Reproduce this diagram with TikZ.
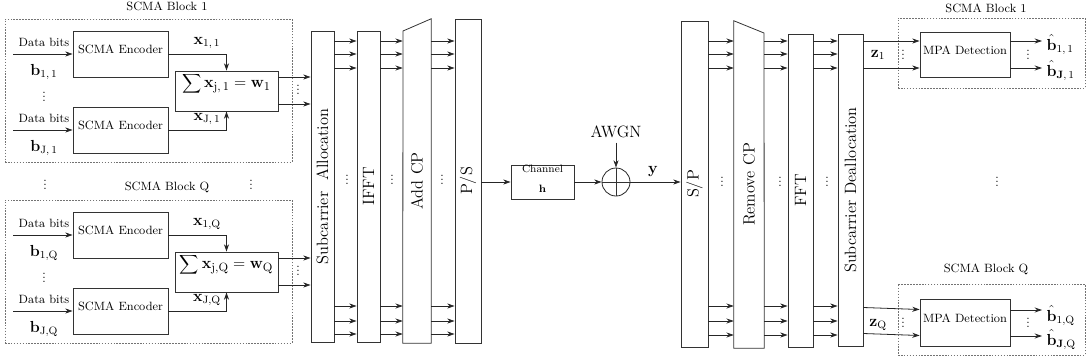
\documentclass[tikz,border=0pt]{standalone}
\usetikzlibrary{arrows.meta,fit,calc}
\newcommand{\myvd}{\vbox{\baselineskip3pt\lineskiplimit0pt\hbox{.}\hbox{.}\hbox{.}}}
\begin{document}
\begin{tikzpicture}[x=0.75pt,y=-0.75pt,
  every node/.style={font=\fontsize{9}{11}\selectfont},
  blk/.style={draw=black!80, line width=0.6pt, inner sep=0pt},
  grp/.style={draw=black!55, dash pattern=on 1.2pt off 1pt, line width=0.45pt, inner sep=0pt},
  arr/.style={-{Stealth[length=5.5pt,width=3.8pt]}, line width=0.6pt, draw=black!85},
  ln/.style={line width=0.6pt, draw=black!80},
  big/.style={font=\fontsize{12.3}{14}\selectfont},
  lab/.style={font=\fontsize{11.5}{13}\selectfont},
  dts/.style={font=\fontsize{9}{9}\selectfont, inner sep=0pt},
]
\useasboundingbox (0,0) rectangle (1086,362);

% ---------- middle transmitter blocks ----------
\node[blk, fit={(311,31)(334,342)}, label={[big,rotate=90]center:Subcarrier\ \ Allocation}] (sa) {};
\node[blk, fit={(357,31)(380,342)}, label={[big,rotate=90]center:IFFT}] (ifft) {};
\node[inner sep=0pt, fit={(403,19)(431,343)}] (acp) {};
\draw[ln] (acp.south west) -- (403,31) -- (acp.north east) -- (acp.south east) -- cycle;
\node[big, rotate=90] (acpl) at (acp.center) {Add CP};
\node[blk, fit={(455,19)(481,343)}, label={[big,rotate=90]center:P/S}] (ps) {};

\foreach \y in {41,54,68,306,321,334}{
  \draw[arr] (sa.east |- 0,\y) -- (ifft.west |- 0,\y);
  \draw[arr] (ifft.east |- 0,\y) -- (acp.west |- 0,\y);
  \draw[arr] (acp.east |- 0,\y) -- (ps.west |- 0,\y);
}
\node[dts] (d1) at (347,180) {\myvd};
\node[dts] (d2) at (392,180) {\myvd};
\node[dts] (d3) at (442,180) {\myvd};

% ---------- channel ----------
\node[blk, fit={(511,165)(574,199)}, align=center, font=\fontsize{8}{15}\selectfont] (ch) {Channel\\$\mathbf{h}$};
\draw[arr] (ps.east |- ch) -- (ch.west);
\node[draw=black!85, line width=0.6pt, circle, minimum size=21pt, inner sep=0pt] (add) at (616,182) {};
\draw[ln] (add.north) -- (add.south) (add.west) -- (add.east);
\draw[arr] (ch.east) -- (add.west);
\node[big] (awgn) at (616,132) {AWGN};
\draw[arr] (awgn.south) -- (add.north);

% ---------- receiver blocks ----------
\node[blk, fit={(681,21)(708,347)}, label={[big,rotate=90]center:S/P}] (sp) {};
\draw[arr] (add.east) -- (sp.west |- add);
\node[big] (ylab) at (653,171) {$\mathbf{y}$};
\node[inner sep=0pt, fit={(734,21)(764,348)}] (rcp) {};
\draw[ln] (rcp.north west) -- (764,33) -- (rcp.south east) -- (rcp.south west) -- cycle;
\node[big, rotate=90] (rcpl) at (rcp.center) {Remove CP};
\node[blk, fit={(788,34)(813,347)}, label={[big,rotate=90]center:FFT}] (fft) {};
\node[blk, fit={(838,34)(863,346)}, label={[big,rotate=90]center:Subcarrier Deallocation}] (sd) {};

\foreach \y in {41,54,68,306,321,335}{
  \draw[arr] (sp.east |- 0,\y) -- (rcp.west |- 0,\y);
  \draw[arr] (rcp.east |- 0,\y) -- (fft.west |- 0,\y);
  \draw[arr] (fft.east |- 0,\y) -- (sd.west |- 0,\y);
}
\node[dts] (d4) at (722,182) {\myvd};
\node[dts] (d5) at (780,182) {\myvd};
\node[dts] (d6) at (827,182) {\myvd};
\node[dts] (d7) at (997,182) {\myvd};

% ---------- left SCMA blocks ----------
\foreach \dy/\q/\s in {0/1/{\,1}, 181/Q/{\mathrm{Q}}}{
\begin{scope}[shift={(0,\dy)}]
  \node[grp, fit={(5,19)(292,162)}] (g\q) {};
  \node (t\q) at (167,6) {SCMA Block \q};
  \node[blk, fit={(73,31)(168,77)}] (ea\q) {SCMA Encoder};
  \node[blk, fit={(73,107)(168,153)}] (eb\q) {SCMA Encoder};
  \coordinate (ia\q) at (13,54);
  \coordinate (ib\q) at (13,130);
  \draw[arr] (ia\q) -- (ea\q.west);
  \draw[arr] (ib\q) -- (eb\q.west);
  \node (da\q) at (44,42) {Data bits};
  \node (db\q) at (44,118) {Data bits};
  \node[lab] (ba\q) at (44,72) {$\mathbf{b}_{1,\s}$};
  \node[lab] (bb\q) at (44,148) {$\mathbf{b}_{\mathrm{J},\s}$};
  \node[dts] (dv\q) at (44,97) {\myvd};
  \node[blk, fit={(175,71)(278,111)}, font=\fontsize{12.3}{14}\selectfont] (sum\q) {$\displaystyle\sum \mathbf{x}_{\mathrm{j},\s} = \mathbf{w}_{\mathrm{\q}}$};
  \draw[arr] (ea\q.east) -| (sum\q.north);
  \draw[arr] (eb\q.east) -| (sum\q.south);
  \node[lab] (xa\q) at (207,43) {$\mathbf{x}_{1,\s}$};
  \node[lab] (xb\q) at (207,119) {$\mathbf{x}_{\mathrm{J},\s}$};
  \draw[arr] (sum\q.east |- 0,77) -- (sa.west |- 0,77);
  \draw[arr] (sum\q.east |- 0,104) -- (sa.west |- 0,104);
  \node[dts] (do\q) at (298,90) {\myvd};
\end{scope}
}
\node[dts] (dl1) at (45,185) {\myvd};
\node[dts] (dl2) at (251,185) {\myvd};

% ---------- right SCMA blocks ----------
\node[grp, fit={(898,18)(1085,88)}] (r1) {};
\node (rt1) at (986,8) {SCMA Block 1};
\node[blk, fit={(920,32)(1010,77)}] (mpa1) {MPA Detection};
\draw[arr] (sd.east |- 0,41) -- (mpa1.west |- 0,41);
\draw[arr] (sd.east |- 0,68) -- (mpa1.west |- 0,68);
\node[lab] (z1) at (878,55) {$\mathbf{z}_1$};
\node[dts] (dz1) at (903,55) {\myvd};
\coordinate (o11) at (1042,41);
\coordinate (o12) at (1042,68);
\draw[arr] (mpa1.east |- o11) -- (o11);
\draw[arr] (mpa1.east |- o12) -- (o12);
\node[lab, anchor=base west, inner sep=1pt] (bh11) at (1045,50) {$\hat{\mathbf{b}}_{1,\,1}$};
\node[lab, anchor=base west, inner sep=1pt] (bh12) at (1045,76) {$\hat{\mathbf{b}}_{\mathbf{J},\,1}$};
\node[dts] (dm1) at (1028,55) {\myvd};

\node[grp, fit={(898,284)(1085,355)}] (rQ) {};
\node (rtQ) at (986,269) {SCMA Block Q};
\node[blk, fit={(920,299)(1010,346)}] (mpaQ) {MPA Detection};
\draw[arr] (sd.east |- 0,307.5) -- (mpaQ.west |- 0,309.5);
\draw[arr] (sd.east |- 0,333.5) -- (mpaQ.west |- 0,335.5);
\node[lab] (zQ) at (878,325) {$\mathbf{z}_{\mathrm{Q}}$};
\node[dts] (dzQ) at (903,323) {\myvd};
\coordinate (oQ1) at (1042,310);
\coordinate (oQ2) at (1042,336);
\draw[arr] (mpaQ.east |- oQ1) -- (oQ1);
\draw[arr] (mpaQ.east |- oQ2) -- (oQ2);
\node[lab, anchor=base west, inner sep=1pt] (bhQ1) at (1045,321) {$\hat{\mathbf{b}}_{1,\mathrm{Q}}$};
\node[lab, anchor=base west, inner sep=1pt] (bhQ2) at (1045,345) {$\hat{\mathbf{b}}_{\mathbf{J},\mathrm{Q}}$};
\node[dts] (dmQ) at (1028,323) {\myvd};
\end{tikzpicture}
\end{document}
